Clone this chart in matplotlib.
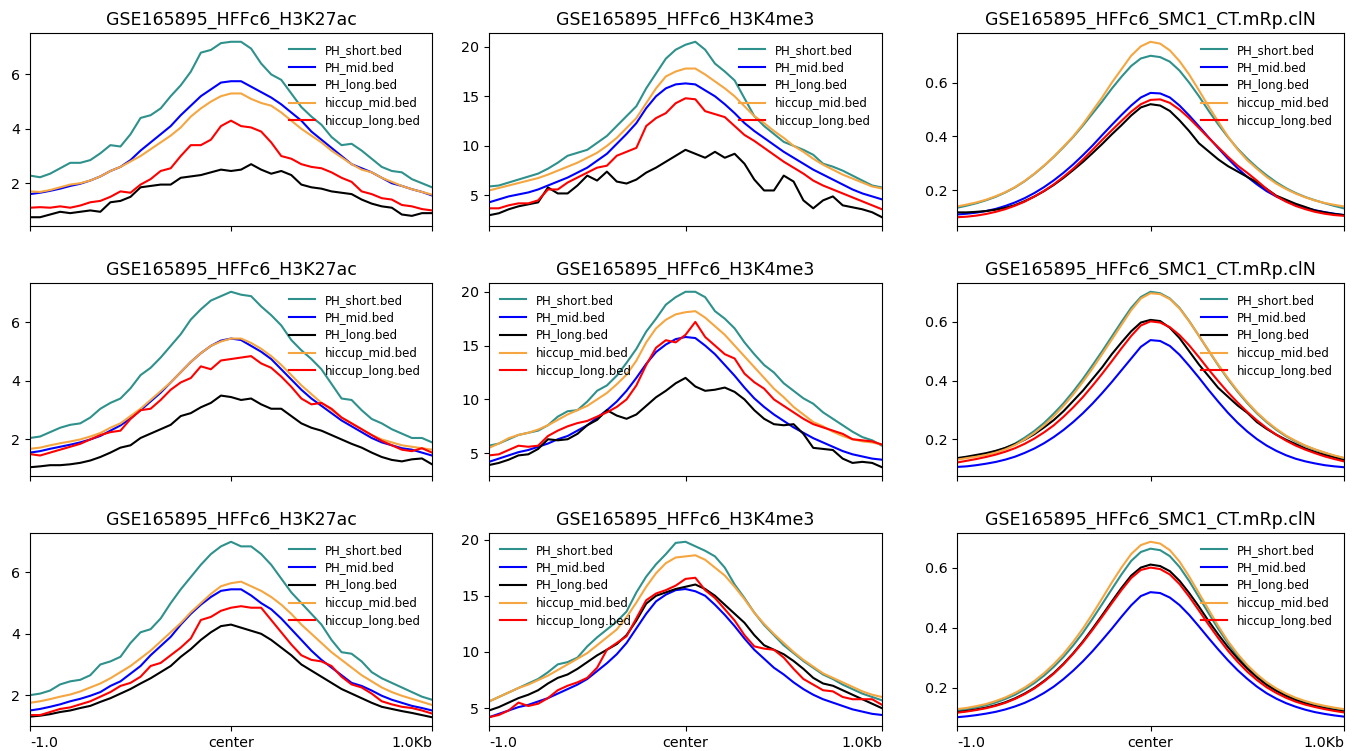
import matplotlib
matplotlib.use('Agg')
import matplotlib.pyplot as plt
import numpy as np

labels = ['PH_short.bed', 'PH_mid.bed', 'PH_long.bed', 'hiccup_mid.bed', 'hiccup_long.bed']
colors = ['#2f918c', '#0000ff', '#000000', '#f5a640', '#ff0000']
titles = ['GSE165895_HFFc6_H3K27ac', 'GSE165895_HFFc6_H3K4me3', 'GSE165895_HFFc6_SMC1_CT.mRp.clN']
xtick_labels = ['-1.0', 'center', '1.0Kb']

# ---- row 1 ----
k27_1_short = [2.28, 2.22, 2.35, 2.55, 2.75, 2.75, 2.85, 3.1, 3.4, 3.35, 3.8, 4.4, 4.5, 4.75, 5.2, 5.6, 6.1, 6.8, 6.9, 7.15, 7.2,
               7.2, 6.95, 6.4, 6.0, 5.8, 5.3, 4.8, 4.45, 4.15, 3.7, 3.4, 3.45, 3.2, 2.9, 2.6, 2.45, 2.4, 2.15, 2.0, 1.85]
k27_1_mid = [1.6, 1.65, 1.72, 1.8, 1.9, 1.98, 2.1, 2.25, 2.45, 2.6, 2.85, 3.2, 3.5, 3.8, 4.1, 4.5, 4.85, 5.2, 5.45, 5.7, 5.75,
             5.75, 5.55, 5.35, 5.15, 4.9, 4.6, 4.3, 3.9, 3.6, 3.3, 3.0, 2.7, 2.55, 2.4, 2.2, 2.0, 1.9, 1.78, 1.68, 1.55]
k27_1_long = [0.75, 0.75, 0.85, 0.95, 0.9, 0.95, 1.0, 0.95, 1.3, 1.35, 1.5, 1.85, 1.9, 1.95, 1.95, 2.2, 2.25, 2.3, 2.4, 2.5, 2.45,
              2.5, 2.7, 2.5, 2.35, 2.45, 2.3, 1.95, 1.85, 1.8, 1.7, 1.65, 1.6, 1.4, 1.25, 1.15, 1.1, 0.85, 0.8, 0.9, 0.9]
k27_1_hmid = [1.7, 1.68, 1.75, 1.85, 1.95, 2.0, 2.1, 2.25, 2.45, 2.6, 2.8, 3.0, 3.25, 3.5, 3.75, 4.05, 4.45, 4.75, 5.0, 5.2, 5.3,
              5.3, 5.1, 4.95, 4.85, 4.6, 4.3, 4.0, 3.75, 3.5, 3.2, 2.95, 2.7, 2.5, 2.4, 2.2, 2.05, 1.9, 1.78, 1.68, 1.58]
k27_1_hlong = [1.1, 1.12, 1.1, 1.15, 1.1, 1.18, 1.3, 1.35, 1.5, 1.7, 1.65, 1.95, 2.15, 2.45, 2.55, 3.0, 3.4, 3.4, 3.6, 4.1, 4.3,
               4.1, 4.05, 3.9, 3.5, 3.0, 2.9, 2.7, 2.6, 2.55, 2.4, 2.2, 2.05, 1.7, 1.6, 1.45, 1.4, 1.2, 1.15, 1.05, 1.0]

k4_1_short = [5.9, 6.0, 6.3, 6.6, 6.9, 7.2, 7.7, 8.3, 9.0, 9.3, 9.6, 10.3, 11.0, 12.0, 13.0, 14.0, 15.8, 17.3, 18.8, 19.7, 20.2,
              20.5, 19.7, 18.3, 17.5, 16.6, 14.8, 13.0, 12.0, 11.2, 10.4, 10.0, 9.6, 9.1, 8.2, 7.9, 7.5, 7.0, 6.5, 6.0, 5.8]
k4_1_mid = [4.3, 4.6, 4.9, 5.1, 5.3, 5.6, 6.0, 6.4, 6.8, 7.3, 7.8, 8.5, 9.2, 10.2, 11.2, 12.3, 13.8, 15.0, 15.8, 16.2, 16.3,
            16.2, 15.6, 15.0, 14.2, 13.3, 12.3, 11.5, 10.8, 10.1, 9.4, 8.8, 8.2, 7.6, 7.1, 6.6, 6.1, 5.6, 5.2, 4.9, 4.6]
k4_1_long = [3.0, 3.2, 3.6, 3.9, 4.1, 4.3, 5.8, 5.2, 5.2, 6.0, 7.0, 6.5, 7.4, 6.4, 6.2, 6.6, 7.3, 7.8, 8.4, 9.0, 9.6,
             9.2, 8.8, 9.4, 8.8, 9.2, 8.2, 6.6, 5.5, 5.5, 7.0, 6.4, 4.5, 3.7, 4.5, 4.9, 4.0, 3.8, 3.6, 3.3, 2.8]
k4_1_hmid = [5.5, 5.75, 6.0, 6.25, 6.5, 6.75, 7.1, 7.5, 7.9, 8.3, 8.8, 9.3, 10.0, 10.8, 11.8, 12.8, 14.3, 15.8, 17.0, 17.5, 17.8,
             17.8, 17.2, 16.5, 15.8, 15.0, 14.0, 13.0, 12.3, 11.5, 10.8, 10.0, 9.4, 8.7, 8.1, 7.6, 7.1, 6.7, 6.3, 5.9, 5.7]
k4_1_hlong = [3.7, 3.7, 4.0, 4.2, 4.2, 4.5, 5.6, 5.6, 6.3, 6.8, 7.3, 7.8, 8.0, 9.0, 9.4, 9.8, 12.0, 12.8, 13.3, 14.3, 14.8,
              14.7, 13.5, 13.2, 12.9, 12.0, 11.1, 10.5, 9.8, 9.1, 8.4, 7.8, 7.2, 6.5, 6.0, 5.6, 5.2, 4.8, 4.4, 4.0, 3.6]

smc_1_short = [0.135, 0.143, 0.152, 0.163, 0.176, 0.192, 0.211, 0.234, 0.261, 0.291, 0.324, 0.360, 0.398, 0.440, 0.485, 0.530,
               0.578, 0.622, 0.662, 0.690, 0.700, 0.695, 0.678, 0.645, 0.600, 0.550, 0.496, 0.445, 0.398, 0.355, 0.318,
               0.285, 0.256, 0.230, 0.208, 0.190, 0.175, 0.163, 0.152, 0.142, 0.133]
smc_1_mid = [0.110, 0.113, 0.117, 0.123, 0.131, 0.142, 0.155, 0.171, 0.190, 0.212, 0.237, 0.265, 0.296, 0.330, 0.366, 0.405,
             0.443, 0.480, 0.515, 0.545, 0.562, 0.560, 0.545, 0.515, 0.478, 0.438, 0.397, 0.357, 0.318, 0.282, 0.250,
             0.222, 0.197, 0.177, 0.160, 0.146, 0.135, 0.126, 0.119, 0.113, 0.108]
smc_1_long = [0.118, 0.118, 0.120, 0.123, 0.128, 0.135, 0.145, 0.160, 0.177, 0.197, 0.220, 0.246, 0.275, 0.305, 0.338, 0.372,
              0.408, 0.442, 0.478, 0.508, 0.520, 0.515, 0.495, 0.460, 0.420, 0.375, 0.345, 0.315, 0.290, 0.270, 0.250,
              0.230, 0.205, 0.180, 0.165, 0.150, 0.138, 0.125, 0.118, 0.112, 0.108]
smc_1_hmid = [0.140, 0.147, 0.155, 0.165, 0.178, 0.193, 0.212, 0.235, 0.262, 0.292, 0.325, 0.362, 0.400, 0.445, 0.495, 0.545,
              0.600, 0.650, 0.700, 0.735, 0.752, 0.745, 0.720, 0.680, 0.630, 0.572, 0.512, 0.455, 0.400, 0.352, 0.312,
              0.280, 0.250, 0.225, 0.205, 0.188, 0.174, 0.162, 0.153, 0.146, 0.140]
smc_1_hlong = [0.100, 0.102, 0.106, 0.112, 0.120, 0.130, 0.143, 0.158, 0.177, 0.198, 0.222, 0.250, 0.280, 0.314, 0.350, 0.387,
               0.423, 0.458, 0.492, 0.520, 0.536, 0.538, 0.525, 0.500, 0.468, 0.432, 0.395, 0.360, 0.325, 0.292, 0.265,
               0.236, 0.205, 0.178, 0.158, 0.142, 0.130, 0.120, 0.113, 0.108, 0.105]

# ---- row 2 ----
k27_2_short = [2.05, 2.1, 2.25, 2.4, 2.5, 2.55, 2.75, 3.05, 3.25, 3.4, 3.75, 4.2, 4.45, 4.8, 5.2, 5.6, 6.1, 6.45, 6.75, 6.9, 7.05,
               6.95, 6.9, 6.55, 6.25, 5.9, 5.4, 5.05, 4.75, 4.4, 3.9, 3.4, 3.35, 3.0, 2.7, 2.55, 2.35, 2.2, 2.05, 2.05, 1.9]
k27_2_mid = [1.55, 1.6, 1.68, 1.75, 1.82, 1.9, 2.0, 2.12, 2.3, 2.48, 2.72, 3.0, 3.3, 3.6, 3.95, 4.3, 4.65, 4.95, 5.2, 5.38, 5.45,
             5.4, 5.2, 5.0, 4.75, 4.4, 4.05, 3.7, 3.4, 3.15, 2.9, 2.65, 2.45, 2.25, 2.05, 1.9, 1.8, 1.7, 1.65, 1.55, 1.45]
k27_2_long = [1.05, 1.08, 1.12, 1.12, 1.15, 1.2, 1.28, 1.4, 1.55, 1.72, 1.8, 2.05, 2.2, 2.35, 2.5, 2.8, 2.9, 3.1, 3.25, 3.5, 3.45,
              3.35, 3.4, 3.2, 3.05, 3.05, 2.8, 2.55, 2.4, 2.3, 2.15, 2.0, 1.85, 1.72, 1.55, 1.4, 1.3, 1.25, 1.32, 1.35, 1.15]
k27_2_hmid = [1.68, 1.72, 1.8, 1.87, 1.93, 2.0, 2.1, 2.22, 2.4, 2.55, 2.8, 3.05, 3.35, 3.65, 3.95, 4.3, 4.65, 4.95, 5.2, 5.35, 5.45,
              5.45, 5.3, 5.1, 4.85, 4.55, 4.2, 3.85, 3.55, 3.25, 3.0, 2.75, 2.55, 2.35, 2.15, 2.0, 1.9, 1.8, 1.75, 1.7, 1.65]
k27_2_hlong = [1.5, 1.45, 1.55, 1.65, 1.75, 1.85, 2.0, 2.15, 2.25, 2.3, 2.7, 3.0, 3.05, 3.35, 3.7, 3.95, 4.1, 4.5, 4.4, 4.7, 4.75,
               4.8, 4.85, 4.6, 4.45, 4.15, 3.8, 3.4, 3.2, 3.25, 3.05, 2.75, 2.55, 2.35, 2.15, 1.95, 1.8, 1.65, 1.6, 1.7, 1.55]

k4_2_short = [5.7, 5.9, 6.3, 6.7, 6.9, 7.1, 7.6, 8.4, 8.9, 9.0, 9.8, 10.8, 11.3, 12.2, 13.4, 14.7, 16.3, 17.5, 18.8, 19.5, 20.0,
              20.0, 19.5, 18.2, 17.5, 16.6, 15.3, 14.2, 13.2, 12.5, 11.5, 10.8, 10.1, 9.6, 8.8, 8.2, 7.6, 7.0, 6.5, 6.2, 5.7]
k4_2_mid = [4.2, 4.5, 4.8, 5.1, 5.3, 5.6, 5.9, 6.3, 6.6, 7.1, 7.6, 8.3, 9.0, 9.8, 10.8, 12.0, 13.3, 14.4, 15.1, 15.6, 15.8,
            15.7, 15.0, 14.2, 13.2, 12.2, 11.1, 10.1, 9.3, 8.6, 8.0, 7.4, 6.9, 6.4, 6.0, 5.6, 5.2, 4.9, 4.7, 4.5, 4.4]
k4_2_long = [3.9, 4.1, 4.4, 4.8, 4.9, 5.4, 6.3, 6.2, 6.3, 6.8, 7.6, 8.1, 9.0, 8.5, 8.2, 8.6, 9.4, 10.2, 10.8, 11.5, 12.0,
             11.2, 10.8, 10.9, 11.1, 10.7, 10.0, 9.0, 8.2, 7.7, 7.6, 7.7, 6.8, 5.5, 5.4, 5.3, 4.5, 4.1, 4.2, 4.1, 3.7]
k4_2_hmid = [5.5, 5.9, 6.4, 6.7, 6.9, 7.2, 7.6, 8.1, 8.6, 9.0, 9.4, 10.0, 10.6, 11.4, 12.3, 13.6, 15.3, 16.6, 17.4, 17.9, 18.1,
             18.2, 17.6, 16.8, 16.0, 15.0, 14.0, 13.0, 12.0, 11.0, 10.2, 9.3, 8.6, 7.9, 7.5, 7.0, 6.6, 6.3, 6.1, 6.0, 5.8]
k4_2_hlong = [4.8, 4.9, 5.3, 5.7, 5.6, 5.7, 6.6, 7.1, 7.5, 7.8, 8.0, 8.4, 8.8, 9.3, 10.0, 11.3, 13.2, 14.8, 15.5, 15.3, 16.0,
              17.2, 15.8, 15.0, 14.2, 13.8, 12.4, 11.6, 11.0, 10.0, 9.4, 8.8, 8.2, 7.7, 7.4, 7.1, 6.8, 6.3, 6.2, 6.1, 5.8]

smc_2_short = [0.133, 0.138, 0.143, 0.150, 0.158, 0.170, 0.185, 0.205, 0.228, 0.255, 0.287, 0.322, 0.362, 0.405, 0.452, 0.500,
               0.550, 0.600, 0.648, 0.685, 0.703, 0.698, 0.680, 0.648, 0.603, 0.553, 0.502, 0.452, 0.405, 0.362, 0.323,
               0.288, 0.258, 0.232, 0.210, 0.192, 0.177, 0.164, 0.153, 0.143, 0.135]
smc_2_mid = [0.105, 0.107, 0.111, 0.116, 0.122, 0.130, 0.140, 0.153, 0.168, 0.186, 0.207, 0.231, 0.258, 0.288, 0.321, 0.357,
             0.395, 0.435, 0.475, 0.515, 0.538, 0.535, 0.518, 0.488, 0.450, 0.410, 0.368, 0.328, 0.290, 0.256, 0.226,
             0.200, 0.178, 0.160, 0.145, 0.133, 0.124, 0.117, 0.111, 0.107, 0.104]
smc_2_long = [0.135, 0.140, 0.146, 0.152, 0.160, 0.170, 0.183, 0.198, 0.217, 0.240, 0.265, 0.295, 0.330, 0.365, 0.405, 0.445,
              0.490, 0.530, 0.568, 0.598, 0.607, 0.603, 0.580, 0.545, 0.500, 0.455, 0.415, 0.375, 0.345, 0.315, 0.290,
              0.258, 0.235, 0.215, 0.198, 0.183, 0.168, 0.156, 0.146, 0.138, 0.128]
smc_2_hmid = [0.130, 0.135, 0.140, 0.146, 0.154, 0.165, 0.180, 0.199, 0.221, 0.247, 0.278, 0.313, 0.352, 0.395, 0.441, 0.490,
              0.540, 0.590, 0.640, 0.680, 0.698, 0.695, 0.678, 0.646, 0.602, 0.553, 0.503, 0.454, 0.408, 0.365, 0.326,
              0.291, 0.261, 0.235, 0.212, 0.194, 0.178, 0.165, 0.154, 0.144, 0.136]
smc_2_hlong = [0.120, 0.126, 0.132, 0.139, 0.147, 0.157, 0.169, 0.184, 0.202, 0.223, 0.247, 0.276, 0.308, 0.343, 0.382, 0.423,
               0.466, 0.510, 0.552, 0.588, 0.602, 0.598, 0.582, 0.555, 0.520, 0.480, 0.438, 0.398, 0.360, 0.325, 0.293,
               0.264, 0.238, 0.215, 0.195, 0.178, 0.164, 0.152, 0.141, 0.132, 0.124]

# ---- row 3 ----
k27_3_short = [2.0, 2.05, 2.15, 2.35, 2.45, 2.5, 2.65, 3.0, 3.1, 3.25, 3.7, 4.05, 4.15, 4.5, 5.0, 5.45, 5.85, 6.25, 6.6, 6.85, 7.0,
               6.85, 6.85, 6.6, 6.25, 5.8, 5.35, 5.0, 4.65, 4.3, 3.8, 3.4, 3.35, 3.1, 2.75, 2.55, 2.4, 2.25, 2.1, 1.95, 1.85]
k27_3_mid = [1.5, 1.55, 1.62, 1.7, 1.8, 1.88, 1.98, 2.1, 2.3, 2.45, 2.7, 2.95, 3.3, 3.6, 3.9, 4.3, 4.65, 4.95, 5.2, 5.4, 5.45,
             5.45, 5.25, 5.0, 4.8, 4.5, 4.15, 3.8, 3.45, 3.15, 2.9, 2.65, 2.4, 2.3, 2.15, 1.98, 1.85, 1.75, 1.65, 1.58, 1.5]
k27_3_long = [1.3, 1.33, 1.38, 1.45, 1.5, 1.58, 1.65, 1.78, 1.9, 2.05, 2.2, 2.38, 2.55, 2.75, 2.95, 3.25, 3.5, 3.8, 4.05, 4.25, 4.3,
              4.2, 4.1, 4.0, 3.8, 3.55, 3.3, 3.0, 2.8, 2.6, 2.4, 2.2, 2.05, 1.9, 1.75, 1.62, 1.55, 1.48, 1.42, 1.35, 1.28]
k27_3_hmid = [1.75, 1.8, 1.87, 1.95, 2.02, 2.12, 2.25, 2.38, 2.55, 2.75, 2.95, 3.2, 3.45, 3.75, 4.05, 4.35, 4.7, 5.0, 5.3, 5.55, 5.65,
              5.7, 5.55, 5.4, 5.2, 4.95, 4.65, 4.3, 4.0, 3.7, 3.4, 3.15, 2.9, 2.65, 2.45, 2.25, 2.1, 1.98, 1.88, 1.78, 1.68]
k27_3_hlong = [1.35, 1.35, 1.45, 1.55, 1.6, 1.7, 1.8, 1.95, 2.1, 2.3, 2.4, 2.6, 2.95, 3.05, 3.3, 3.55, 3.85, 4.45, 4.55, 4.75, 4.85,
               4.9, 4.85, 4.85, 4.45, 4.05, 3.65, 3.3, 3.15, 3.1, 2.95, 2.6, 2.35, 2.25, 2.05, 1.8, 1.7, 1.62, 1.58, 1.5, 1.4]

k4_3_short = [5.6, 6.0, 6.4, 6.8, 7.2, 7.6, 8.2, 8.9, 9.1, 9.5, 10.5, 11.3, 12.0, 12.7, 13.6, 15.3, 16.7, 17.8, 18.7, 19.7, 19.8,
              19.4, 19.0, 18.5, 17.5, 16.0, 14.8, 13.5, 12.4, 11.5, 10.6, 9.9, 9.2, 8.6, 8.0, 7.6, 7.1, 6.7, 6.3, 6.0, 5.7]
k4_3_mid = [4.2, 4.5, 4.8, 5.1, 5.3, 5.6, 5.9, 6.3, 6.7, 7.1, 7.6, 8.3, 9.0, 9.8, 10.8, 12.1, 13.4, 14.5, 15.1, 15.5, 15.6,
            15.4, 15.0, 14.2, 13.3, 12.3, 11.2, 10.2, 9.4, 8.6, 8.0, 7.3, 6.7, 6.2, 5.8, 5.5, 5.2, 4.9, 4.7, 4.5, 4.4]
k4_3_long = [4.8, 5.1, 5.5, 5.9, 6.2, 6.6, 7.2, 7.7, 8.0, 8.5, 9.1, 9.7, 10.2, 10.7, 11.5, 12.8, 14.3, 15.0, 15.3, 15.6, 15.8,
             16.0, 15.6, 15.0, 14.2, 13.4, 12.6, 11.5, 10.6, 10.2, 9.8, 9.2, 8.5, 7.7, 7.2, 7.0, 6.6, 6.2, 5.8, 5.4, 5.0]
k4_3_hmid = [5.6, 6.0, 6.4, 6.8, 7.1, 7.5, 7.9, 8.4, 8.9, 9.4, 9.9, 10.6, 11.3, 12.0, 13.1, 14.4, 15.8, 17.0, 17.9, 18.4, 18.5,
             18.6, 18.2, 17.5, 16.8, 15.8, 14.7, 13.5, 12.5, 11.6, 10.8, 10.0, 9.3, 8.7, 8.1, 7.7, 7.3, 6.9, 6.5, 6.2, 6.0]
k4_3_hlong = [4.2, 4.4, 4.8, 5.5, 5.2, 5.4, 5.9, 6.6, 7.0, 7.3, 7.7, 8.6, 10.2, 10.8, 11.4, 13.0, 14.6, 15.2, 15.5, 15.9, 16.5,
              16.6, 15.5, 14.8, 13.8, 12.8, 11.5, 10.5, 10.3, 10.2, 9.5, 8.5, 7.6, 7.1, 6.6, 6.5, 6.0, 5.8, 5.8, 5.8, 5.3]

smc_3_short = [0.123, 0.128, 0.134, 0.141, 0.150, 0.162, 0.176, 0.194, 0.215, 0.240, 0.269, 0.302, 0.340, 0.382, 0.429, 0.478,
               0.528, 0.577, 0.622, 0.652, 0.663, 0.658, 0.638, 0.602, 0.555, 0.502, 0.448, 0.396, 0.348, 0.306, 0.270,
               0.240, 0.214, 0.193, 0.176, 0.162, 0.151, 0.142, 0.135, 0.129, 0.124]
smc_3_mid = [0.101, 0.104, 0.108, 0.113, 0.119, 0.127, 0.137, 0.149, 0.164, 0.182, 0.203, 0.228, 0.256, 0.287, 0.321, 0.358,
             0.396, 0.436, 0.474, 0.505, 0.518, 0.515, 0.500, 0.475, 0.442, 0.404, 0.365, 0.327, 0.291, 0.258, 0.229,
             0.203, 0.181, 0.163, 0.148, 0.136, 0.126, 0.118, 0.112, 0.107, 0.103]
smc_3_long = [0.118, 0.122, 0.127, 0.133, 0.141, 0.151, 0.164, 0.180, 0.199, 0.222, 0.248, 0.279, 0.314, 0.353, 0.396, 0.441,
              0.487, 0.532, 0.573, 0.600, 0.610, 0.605, 0.588, 0.556, 0.515, 0.470, 0.422, 0.377, 0.335, 0.297, 0.263,
              0.234, 0.209, 0.189, 0.172, 0.158, 0.147, 0.138, 0.131, 0.125, 0.120]
smc_3_hmid = [0.128, 0.132, 0.138, 0.145, 0.155, 0.167, 0.182, 0.200, 0.222, 0.248, 0.278, 0.312, 0.352, 0.396, 0.445, 0.497,
              0.550, 0.600, 0.645, 0.675, 0.686, 0.680, 0.658, 0.620, 0.570, 0.515, 0.460, 0.405, 0.355, 0.312, 0.275,
              0.244, 0.218, 0.197, 0.180, 0.166, 0.155, 0.146, 0.139, 0.133, 0.128]
smc_3_hlong = [0.116, 0.120, 0.125, 0.131, 0.139, 0.149, 0.162, 0.178, 0.197, 0.220, 0.246, 0.277, 0.312, 0.350, 0.392, 0.436,
               0.481, 0.525, 0.565, 0.592, 0.600, 0.595, 0.577, 0.545, 0.503, 0.457, 0.410, 0.365, 0.323, 0.286, 0.253,
               0.225, 0.201, 0.182, 0.166, 0.153, 0.143, 0.135, 0.128, 0.122, 0.117]

grid = [
    [[k27_1_short, k27_1_mid, k27_1_long, k27_1_hmid, k27_1_hlong],
     [k4_1_short, k4_1_mid, k4_1_long, k4_1_hmid, k4_1_hlong],
     [smc_1_short, smc_1_mid, smc_1_long, smc_1_hmid, smc_1_hlong]],
    [[k27_2_short, k27_2_mid, k27_2_long, k27_2_hmid, k27_2_hlong],
     [k4_2_short, k4_2_mid, k4_2_long, k4_2_hmid, k4_2_hlong],
     [smc_2_short, smc_2_mid, smc_2_long, smc_2_hmid, smc_2_hlong]],
    [[k27_3_short, k27_3_mid, k27_3_long, k27_3_hmid, k27_3_hlong],
     [k4_3_short, k4_3_mid, k4_3_long, k4_3_hmid, k4_3_hlong],
     [smc_3_short, smc_3_mid, smc_3_long, smc_3_hmid, smc_3_hlong]],
]
legend_loc = [['upper right', 'upper right', 'upper right'],
              ['upper right', 'upper left', 'upper right'],
              ['upper right', 'upper left', 'upper right']]

W, H = 1358, 751
fig = plt.figure(figsize=(W / 100, H / 100), dpi=100)

col_left = [30, 489, 957]
col_width = [402, 393, 387]
row_top = [33, 283, 533]
row_height = 193

for r in range(3):
    for c in range(3):
        ax = fig.add_axes([col_left[c] / W, 1 - (row_top[r] + row_height) / H,
                           col_width[c] / W, row_height / H])
        for vals, lab, col in zip(grid[r][c], labels, colors):
            x = np.linspace(-1, 1, len(vals))
            ax.plot(x, vals, color=col, lw=1.5, label=lab)
        ax.set_xlim(-1, 1)
        ax.margins(y=0.05)
        ax.set_title(titles[c], fontsize=12.5)
        ax.set_xticks([-1, 0, 1])
        ax.tick_params(labelsize=10.3)
        if r == 2:
            ax.set_xticklabels(xtick_labels)
            tl = ax.get_xticklabels()
            tl[0].set_ha('left')
            tl[2].set_ha('right')
        else:
            ax.set_xticklabels([])
        ax.legend(loc=legend_loc[r][c], frameon=False, fontsize=8.5,
                  labelspacing=0.4, handlelength=2.2, handletextpad=0.85)

fig.savefig('out.png', dpi=100)
